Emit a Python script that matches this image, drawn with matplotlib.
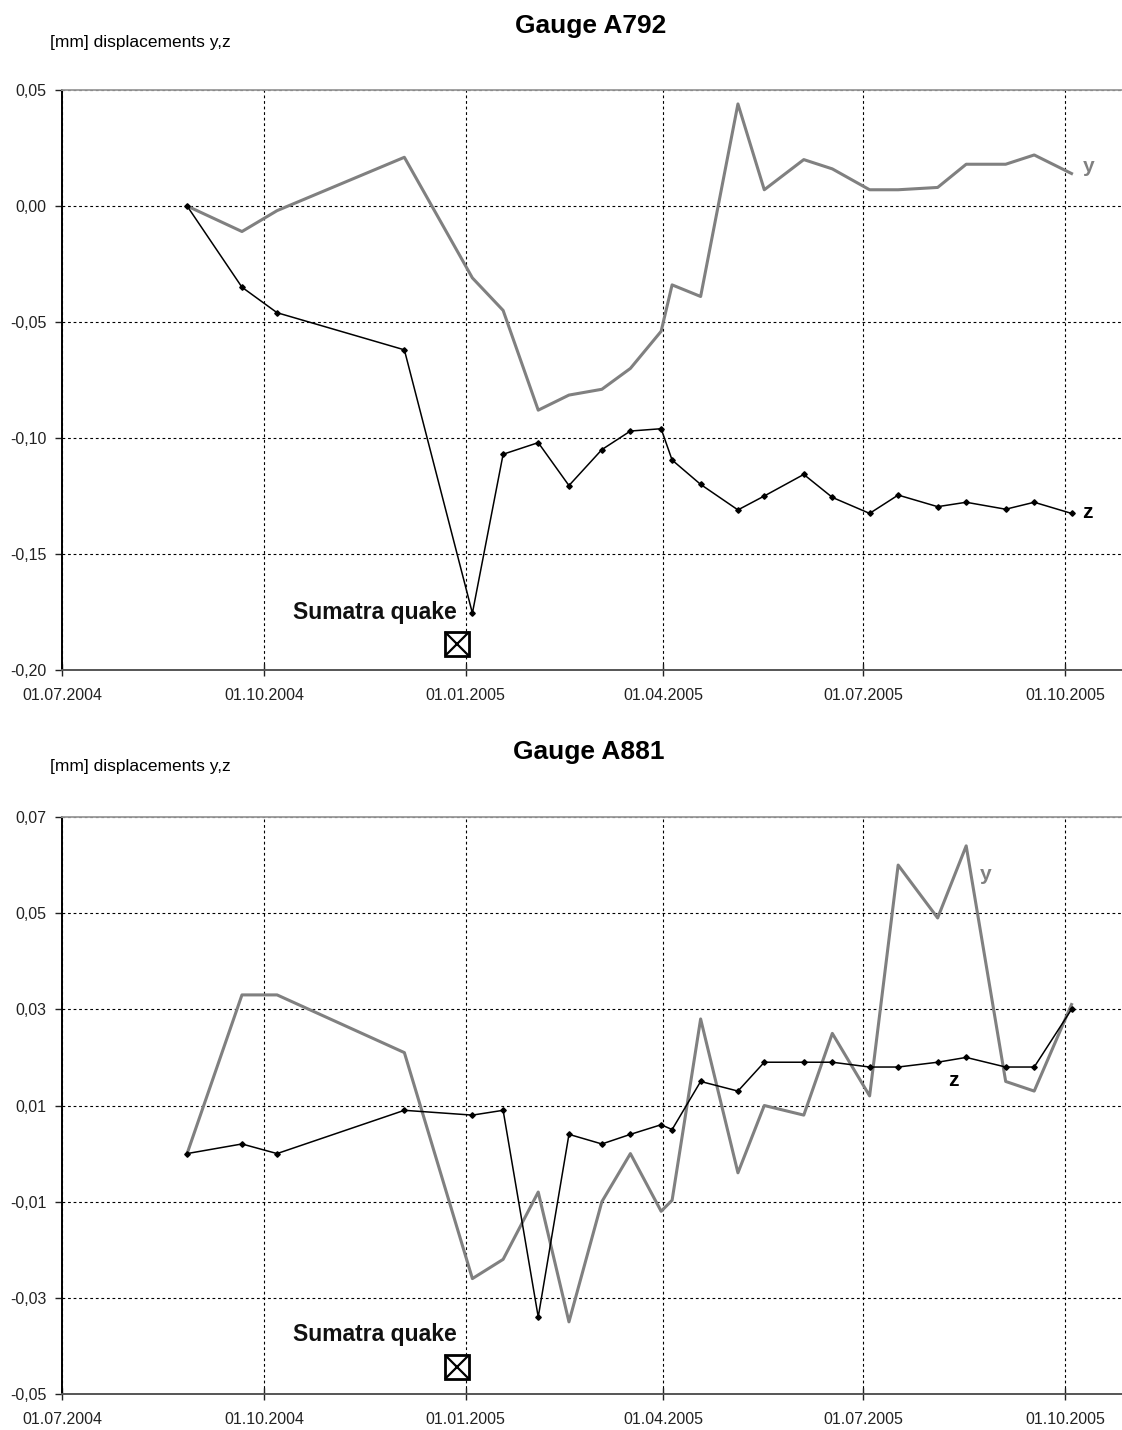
import matplotlib
matplotlib.use("Agg")
import matplotlib.pyplot as plt
import matplotlib.dates as mdates
from matplotlib.ticker import FuncFormatter
from datetime import datetime

plt.rcParams['font.family'] = ['Liberation Sans', 'DejaVu Sans']

# measurement dates (same for both gauges)
dates = ['2004-08-27', '2004-09-21', '2004-10-07', '2004-12-04', '2005-01-04', '2005-01-18',
         '2005-02-03', '2005-02-17', '2005-03-04', '2005-03-17', '2005-03-31', '2005-04-05',
         '2005-04-18', '2005-05-05', '2005-05-17', '2005-06-04', '2005-06-17', '2005-07-04',
         '2005-07-17', '2005-08-04', '2005-08-17', '2005-09-04', '2005-09-17', '2005-10-04']

# Gauge A792
a792_y = [0.000, -0.011, -0.002, 0.021, -0.031, -0.045, -0.088, -0.0815, -0.079, -0.070,
          -0.054, -0.034, -0.039, 0.044, 0.007, 0.020, 0.016, 0.007, 0.007, 0.008,
          0.018, 0.018, 0.022, 0.014]
a792_z = [0.000, -0.035, -0.046, -0.062, -0.1755, -0.107, -0.102, -0.1205, -0.105, -0.097,
          -0.096, -0.1095, -0.120, -0.131, -0.125, -0.1157, -0.1256, -0.1325, -0.1246, -0.1296,
          -0.1277, -0.1307, -0.1277, -0.1325]
a792_ticks = [0.05, 0.00, -0.05, -0.10, -0.15, -0.20]

# Gauge A881
a881_y = [0.000, 0.033, 0.033, 0.021, -0.026, -0.022, -0.008, -0.035, -0.010, 0.000,
          -0.012, -0.0097, 0.028, -0.004, 0.010, 0.008, 0.025, 0.012, 0.060, 0.049,
          0.064, 0.015, 0.013, 0.031]
a881_z = [0.000, 0.002, 0.000, 0.009, 0.008, 0.009, -0.034, 0.004, 0.002, 0.004,
          0.006, 0.005, 0.015, 0.013, 0.019, 0.019, 0.019, 0.018, 0.018, 0.019,
          0.020, 0.018, 0.018, 0.030]
a881_ticks = [0.07, 0.05, 0.03, 0.01, -0.01, -0.03, -0.05]

date_ticks = ['2004-07-01', '2004-10-01', '2005-01-01', '2005-04-01', '2005-07-01', '2005-10-01']
quake_date = '2004-12-28'

GRAY = '#808080'


def d(s):
    return datetime.strptime(s, '%Y-%m-%d')


def draw_gauge(ax, y_vals, z_vals, yticks, quake_val, ylab_pos, zlab_pos):
    x = [d(s) for s in dates]
    ax.plot(x, y_vals, color=GRAY, lw=2.2, zorder=3)
    ax.plot(x, z_vals, color='black', lw=1.1, marker='D', ms=2.8, zorder=4)

    ax.set_xlim(d('2004-07-01'), d('2005-10-27'))
    ax.set_ylim(yticks[-1], yticks[0])
    ax.set_yticks(yticks)
    ax.yaxis.set_major_formatter(FuncFormatter(lambda v, p: f"{v:.2f}".replace('.', ',')))
    ax.set_xticks([d(s) for s in date_ticks])
    ax.xaxis.set_major_formatter(mdates.DateFormatter('%d.%m.%Y'))

    ax.grid(True, color='black', lw=0.8, linestyle=(0, (2.5, 2.5)))
    ax.tick_params(axis='x', direction='inout', length=8, width=1, pad=9, labelsize=11.5, colors='#222222')
    ax.tick_params(axis='y', direction='out', length=5, width=1, pad=6, labelsize=11.5, colors='#222222')

    ax.spines['right'].set_visible(False)
    ax.spines['top'].set_color('#999999')
    ax.spines['top'].set_linewidth(1.3)
    ax.spines['left'].set_color('black')
    ax.spines['left'].set_linewidth(1.4)
    ax.spines['bottom'].set_color('#555555')
    ax.spines['bottom'].set_linewidth(1.4)

    # quake marker: box with a cross
    q = d(quake_date)
    ax.plot([q], [quake_val], marker='s', ms=17, mfc='white', mec='black', mew=2, zorder=5, clip_on=False)
    ax.plot([q], [quake_val], marker='x', ms=17, mec='black', mew=1.6, zorder=6, clip_on=False)
    ax.annotate('Sumatra quake', (q, quake_val), xytext=(0, 23), textcoords='offset points',
                ha='right', va='center', fontsize=16.5, fontweight='bold', color='#111111')

    ax.text(d(ylab_pos[0]), ylab_pos[1], 'y', color=GRAY, fontsize=15, fontweight='bold',
            ha='center', va='center')
    ax.text(d(zlab_pos[0]), zlab_pos[1], 'z', color='black', fontsize=15, fontweight='bold',
            ha='center', va='center')


fig = plt.figure(figsize=(11.22, 14.3), dpi=100)

ax1 = fig.add_axes([62 / 1122, 1 - 670 / 1430, 1060 / 1122, 580 / 1430])
draw_gauge(ax1, a792_y, a792_z, a792_ticks, -0.189,
           ('2005-10-12', 0.017), ('2005-10-11', -0.132))

ax2 = fig.add_axes([62 / 1122, 1 - 1394 / 1430, 1060 / 1122, 577 / 1430])
draw_gauge(ax2, a881_y, a881_z, a881_ticks, -0.0443,
           ('2005-08-26', 0.058), ('2005-08-11', 0.0153))

fig.text(591 / 1122, 1 - 26 / 1430, 'Gauge A792', ha='center', va='center', fontsize=19, fontweight='bold')
fig.text(589 / 1122, 1 - 752 / 1430, 'Gauge A881', ha='center', va='center', fontsize=19, fontweight='bold')
fig.text(50 / 1122, 1 - 43 / 1430, '[mm] displacements y,z', ha='left', va='center', fontsize=12.5)
fig.text(50 / 1122, 1 - 767 / 1430, '[mm] displacements y,z', ha='left', va='center', fontsize=12.5)

fig.savefig('out.png', dpi=100)
